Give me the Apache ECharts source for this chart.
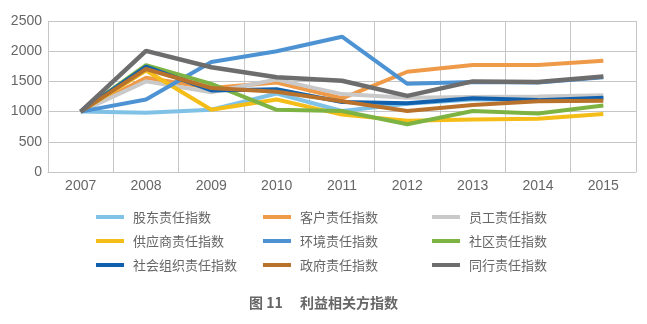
<!DOCTYPE html>
<html>
<head>
<meta charset="utf-8">
<script src="https://cdn.jsdelivr.net/npm/echarts@6/dist/echarts.min.js"></script>
<style>html,body{margin:0;padding:0;background:#fff;}#c{width:647px;height:324px;}</style>
</head>
<body>
<div id="c"></div>
<script>
const years = ['2007','2008','2009','2010','2011','2012','2013','2014','2015'];
const yTicks = [0, 500, 1000, 1500, 2000, 2500];
const names = ['股东责任指数','客户责任指数','员工责任指数','供应商责任指数','环境责任指数','社区责任指数','社会组织责任指数','政府责任指数','同行责任指数'];
const shareholder = [1000, 980, 1030, 1300, 1010, 1130, 1200, 1200, 1230];
const customer    = [1000, 1560, 1390, 1480, 1220, 1660, 1770, 1770, 1840];
const employee    = [1000, 1500, 1320, 1530, 1290, 1230, 1240, 1250, 1270];
const supplier    = [1000, 1680, 1030, 1200, 950, 850, 870, 880, 960];
const environment = [1000, 1200, 1820, 2000, 2240, 1460, 1490, 1480, 1570];
const community   = [1000, 1770, 1460, 1030, 1010, 790, 1010, 970, 1100];
const socialOrg   = [1000, 1745, 1350, 1370, 1160, 1140, 1220, 1190, 1230];
const government  = [1000, 1705, 1390, 1330, 1170, 1010, 1110, 1170, 1180];
const peer        = [1000, 2005, 1735, 1570, 1510, 1260, 1500, 1490, 1580];
const values = [shareholder, customer, employee, supplier, environment, community, socialOrg, government, peer];
const colors = ['#80c2e6','#ee9a48','#c9c9c9','#f4bd17','#4d93d3','#7db343','#1060ae','#b8722c','#6d6d6d'];

const chart = echarts.init(document.getElementById('c'));
const legendBase = {
  orient: 'vertical', icon: 'rect', itemWidth: 28, itemHeight: 4, itemGap: 8,
  top: 209, padding: 0,
  textStyle: { fontSize: 13, color: '#666', lineHeight: 16, fontFamily: 'Noto Sans CJK SC', padding: [0,0,0,4] },
  selectedMode: false
};
chart.setOption({
  animation: false,
  color: colors,
  title: {
    text: '图 11\u2003 利益相关方指数',
    left: 'center', top: 296, padding: 0,
    textStyle: { fontSize: 14, fontWeight: 'bold', color: '#666', fontFamily: 'Noto Sans CJK SC' }
  },
  legend: [
    Object.assign({}, legendBase, { left: 96, data: [names[0], names[3], names[6]] }),
    Object.assign({}, legendBase, { left: 263, data: [names[1], names[4], names[7]] }),
    Object.assign({}, legendBase, { left: 432, data: [names[2], names[5], names[8]] })
  ],
  grid: { left: 48, right: 11, top: 21, bottom: 152, containLabel: false },
  xAxis: {
    type: 'category', data: years, boundaryGap: true,
    axisLine: { show: true, lineStyle: { color: '#c6c6c6' } },
    axisTick: { show: false },
    axisLabel: { color: '#666', fontSize: 14, fontFamily: 'Liberation Sans', margin: 7 },
    splitLine: { show: true, interval: 0, lineStyle: { color: '#c6c6c6' } }
  },
  yAxis: {
    type: 'value', min: yTicks[0], max: yTicks[yTicks.length - 1], interval: 500,
    axisLine: { show: false }, axisTick: { show: false },
    axisLabel: { color: '#666', fontSize: 14, fontFamily: 'Liberation Sans', margin: 6, formatter: v => String(v) },
    splitLine: { lineStyle: { color: '#c6c6c6' } }
  },
  series: names.map((n, i) => ({
    name: n, type: 'line', data: values[i], symbol: 'none',
    lineStyle: { width: i === 8 ? 4.5 : 4, color: colors[i] },
    itemStyle: { color: colors[i] }
  }))
});
</script>
</body>
</html>
